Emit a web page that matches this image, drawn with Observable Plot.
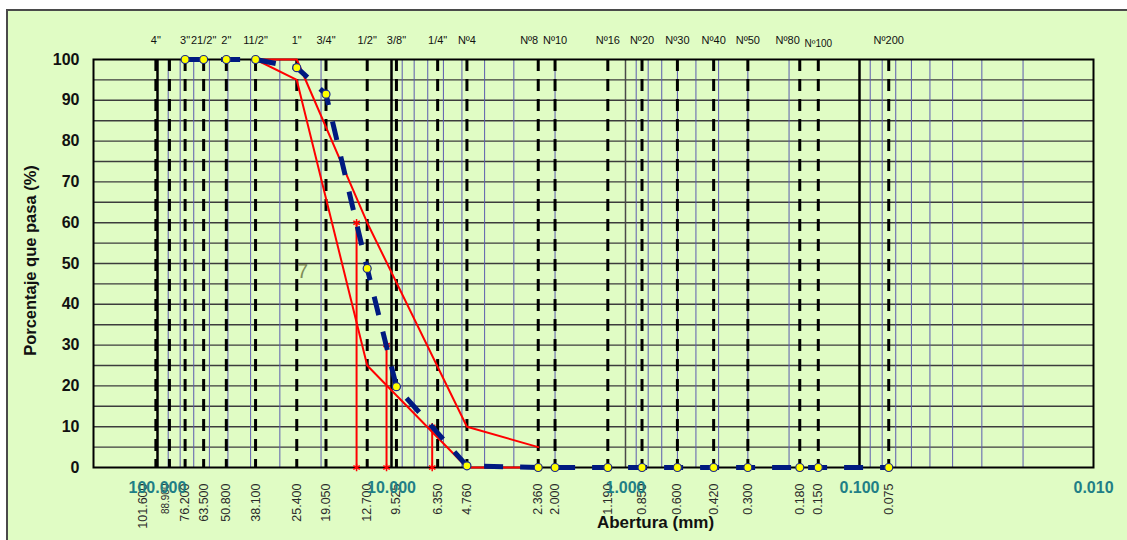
<!DOCTYPE html>
<html>
<head>
<meta charset="utf-8">
<script src="https://cdn.jsdelivr.net/npm/d3@7"></script>
<script src="https://cdn.jsdelivr.net/npm/@observablehq/plot@0.6"></script>
<style>
  html, body { margin: 0; padding: 0; background: #ffffff; }
  #sheet {
    position: absolute; left: 6px; top: 9px; width: 1130px; height: 540px;
    border-left: 2px solid #4a4a4a; border-top: 2px solid #4a4a4a;
    background: #e0fcc4;
  }
  #chart { position: absolute; left: 0; top: 0; }
</style>
</head>
<body>
<div id="sheet"></div>
<div id="chart"></div>
<script>
// Sieve openings (mm), their printed values and sieve designations
const sieveSizes = [101.6, 88.9, 76.2, 63.5, 50.8, 38.1, 25.4, 19.05, 12.7, 9.525, 6.35, 4.76, 2.36, 2.0, 1.19, 0.85, 0.6, 0.42, 0.3, 0.18, 0.15, 0.075];
const sieveValueLabels = ["101.600", "88.900", "76.200", "63.500", "50.800", "38.100", "25.400", "19.050", "12.700", "9.525", "6.350", "4.760", "2.360", "2.000", "1.190", "0.850", "0.600", "0.420", "0.300", "0.180", "0.150", "0.075"];
const sieveNames = ['4"', "", '3"', '21/2"', '2"', '11/2"', '1"', '3/4"', '1/2"', '3/8"', '1/4"', "Nº4", "Nº8", "Nº10", "Nº16", "Nº20", "Nº30", "Nº40", "Nº50", "Nº80", "Nº100", "Nº200"];

// Gradation of the sample (% passing)
const sampleSizes = [76.2, 63.5, 50.8, 38.1, 25.4, 19.05, 12.7, 9.525, 4.76, 2.36, 2.0, 1.19, 0.85, 0.6, 0.42, 0.3, 0.18, 0.15, 0.075];
const samplePassing = [100, 100, 100, 100, 98.0, 91.5, 48.8, 19.8, 0.4, 0, 0, 0, 0, 0, 0, 0, 0, 0, 0];

// Specification band (upper and lower limits)
const limitSizes = [38.1, 25.4, 12.7, 4.76, 2.36];
const upperLimit = [100, 100, 60, 10, 5];
const lowerLimit = [100, 95, 25, 0, 0];

// Characteristic diameters D60, D30, D10
const dSizes = [14.1, 10.5, 6.7];
const dPassing = [60, 30, 10];

// Axis ticks and log grid
const decades = [100, 10, 1, 0.1, 0.01];
const decadeLabels = ["100.000", "10.000", "1.000", "0.100", "0.010"];
const minorGrid = [90, 80, 70, 60, 50, 40, 30, 20, 9, 8, 7, 6, 5, 4, 3, 2, 0.9, 0.8, 0.7, 0.6, 0.5, 0.4, 0.3, 0.2, 0.09, 0.08, 0.07, 0.06, 0.05, 0.04, 0.03, 0.02];
const yTicks = [0, 10, 20, 30, 40, 50, 60, 70, 80, 90, 100];
const yGrid = [5, 10, 15, 20, 25, 30, 35, 40, 45, 50, 55, 60, 65, 70, 75, 80, 85, 90, 95];

const font = "'Liberation Sans', Arial, sans-serif";
const sample = sampleSizes.map((d, i) => ({size: d, pass: samplePassing[i]}));
const upper = limitSizes.map((d, i) => ({size: d, pass: upperLimit[i]}));
const lower = limitSizes.map((d, i) => ({size: d, pass: lowerLimit[i]}));
const dLines = dSizes.map((d, i) => ({size: d, pass: dPassing[i]}));
const sieves = sieveSizes.map((d, i) => ({size: d, value: sieveValueLabels[i], name: sieveNames[i]}));
const endAnchored = new Set(["Nº8", "Nº80"]);

const chart = Plot.plot({
  width: 1127,
  height: 540,
  marginLeft: 93,
  marginRight: 34,
  marginTop: 59,
  marginBottom: 73,
  style: {background: "transparent", fontFamily: font, overflow: "visible"},
  x: {type: "log", domain: [187.7, 0.01], axis: null},
  y: {domain: [0, 100], axis: null},
  marks: [
    // horizontal grid every 5 %
    Plot.ruleY(yGrid, {stroke: "#3c3c3c", strokeWidth: 1.4}),
    // minor logarithmic grid
    Plot.ruleX(minorGrid, {stroke: "#5c5cae", strokeWidth: 1}),
    // decade lines
    Plot.ruleX([100, 10, 0.1], {stroke: "#000", strokeWidth: 2.5}),
    Plot.ruleX([1], {stroke: "#4a4a4a", strokeWidth: 1.5}),
    // sieve openings
    Plot.ruleX(sieveSizes, {stroke: "#000", strokeWidth: 3, strokeDasharray: "12,8"}),
    Plot.frame({stroke: "#000", strokeWidth: 2}),
    // specification limits
    Plot.line(upper, {x: "size", y: "pass", stroke: "#ff0000", strokeWidth: 2}),
    Plot.line(lower, {x: "size", y: "pass", stroke: "#ff0000", strokeWidth: 2}),
    // D60, D30, D10
    Plot.ruleX(dLines, {x: "size", y1: 0, y2: "pass", stroke: "#ff0000", strokeWidth: 2}),
    Plot.dot(dLines, {x: "size", y: "pass", symbol: "asterisk", r: 3.5, stroke: "#ff0000", strokeWidth: 1.5}),
    Plot.dot(dLines, {x: "size", y: 0, symbol: "asterisk", r: 3.5, stroke: "#ff0000", strokeWidth: 1.5}),
    // sample gradation curve
    Plot.line(sample, {x: "size", y: "pass", stroke: "#001a80", strokeWidth: 5, strokeDasharray: "19,17", strokeLinecap: "butt"}),
    Plot.dot(sample, {x: "size", y: "pass", r: 4, fill: "#ffff00", stroke: "#1a2a8a", strokeWidth: 1.2}),
    Plot.text(["7"], {x: [24], y: [48], fill: "#7f8c58", fontSize: 20, stroke: "#e0fcc4", strokeWidth: 0}),
    // sieve designations above the chart
    Plot.text(sieves.filter(d => d.name && !endAnchored.has(d.name) && d.name !== "Nº100"), {x: "size", y: 100, text: "name", dy: -19, fontSize: 11, fill: "#111"}),
    Plot.text(sieves.filter(d => endAnchored.has(d.name)), {x: "size", y: 100, text: "name", dy: -19, textAnchor: "end", fontSize: 11, fill: "#111"}),
    Plot.text(sieves.filter(d => d.name === "Nº100"), {x: "size", y: 100, text: "name", dy: -16, fontSize: 10, fill: "#111"}),
    // sieve openings below the chart
    Plot.text(sieves.filter(d => d.size < 88 ), {x: "size", y: 0, text: "value", rotate: -90, textAnchor: "end", dy: 16, fontSize: 12.5, fill: "#2a2a2a"}),
    Plot.text(sieves.filter(d => d.size > 100), {x: "size", y: 0, text: "value", rotate: -90, textAnchor: "end", dy: 16, dx: -13, fontSize: 12.5, fill: "#2a2a2a"}),
    Plot.text(sieves.filter(d => d.size > 88 && d.size < 100), {x: "size", y: 0, text: "value", rotate: -90, textAnchor: "end", dy: 16, dx: -4, fontSize: 10, fill: "#2a2a2a"}),
    // decade labels
    Plot.text(decades, {x: d => d, y: 0, text: (d, i) => decadeLabels[i], dy: 20, fontSize: 16, fontWeight: "bold", fill: "#1f7f86"}),
    // y axis
    Plot.text(yTicks, {x: 187.7, y: d => d, text: d => String(d), textAnchor: "end", dx: -14, fontSize: 16, fontWeight: "bold", fill: "#111"}),
    Plot.text(["Porcentaje que pasa (%)"], {frameAnchor: "left", textAnchor: "middle", rotate: -90, dx: -63, dy: -3, fontSize: 16.5, fontWeight: "bold", fill: "#111"}),
    Plot.text(["Abertura (mm)"], {frameAnchor: "bottom", dy: 60, dx: 62, fontSize: 17, fontWeight: "bold", fill: "#111"})
  ]
});
document.getElementById("chart").appendChild(chart);
</script>
</body>
</html>
